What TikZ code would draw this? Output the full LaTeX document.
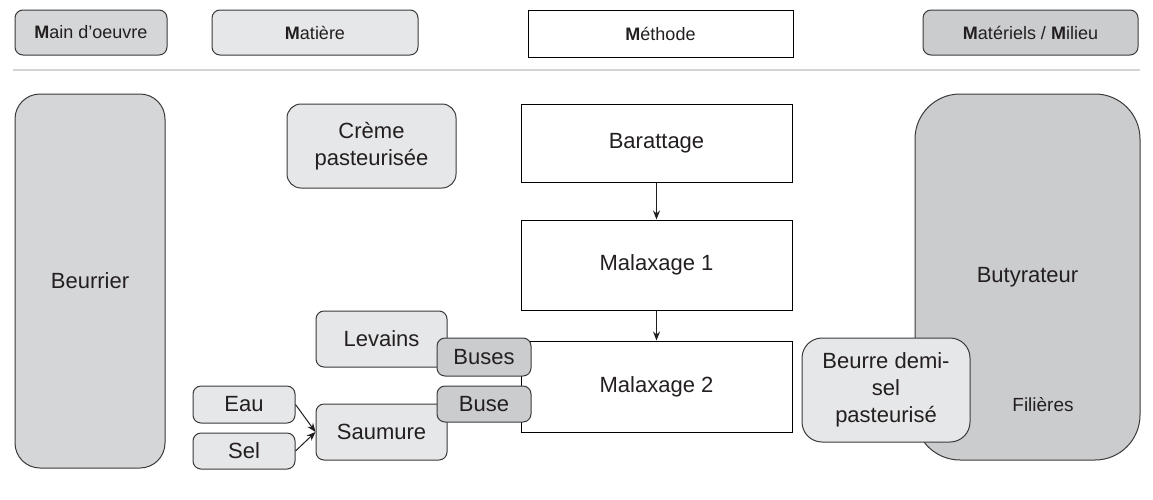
\documentclass[tikz,border=0pt]{standalone}
\usepackage{fontspec}
\setmainfont{Liberation Sans}
\usetikzlibrary{arrows.meta}
\definecolor{ink}{HTML}{231F20}
\definecolor{edge}{HTML}{3A3A3A}
\definecolor{pale}{HTML}{E6E7E8}
\definecolor{mid}{HTML}{D5D6D8}
\definecolor{dark}{HTML}{CBCCCE}
\definecolor{rule}{HTML}{D4D4D4}

\begin{document}
\begin{tikzpicture}[x=1pt,y=-1pt,
    every node/.style={inner sep=0pt,text=ink,font=\fontsize{22}{27}\selectfont},
    head/.style={draw=edge,line width=1pt,rounded corners=8pt,font=\fontsize{18}{22}\selectfont},
    box/.style={draw=edge,line width=1pt,rounded corners=#1},
    box/.default=8pt,
    etape/.style={draw=black,line width=1pt,minimum width=271pt},
    flow/.style={-{Stealth[length=9pt,width=7pt]},line width=1pt,draw=ink}]
      \useasboundingbox (0,0) rectangle (1153,499);

      % en-tetes des 4M
      \draw (91,32.5) node[head,fill=mid,minimum width=152pt,minimum height=45pt] (hMO) {\textbf{M}ain d'oeuvre};
      \draw (315,32.5) node[head,fill=pale,minimum width=206pt,minimum height=45pt] (hMat) {\textbf{M}atière};
      \draw (660.5,33.5) node[head,rounded corners=0pt,draw=black,fill=white,minimum width=265pt,minimum height=47pt] (hMeth) {\textbf{M}éthode};
      \draw (1030.5,32.5) node[head,fill=dark,minimum width=215pt,minimum height=45pt] (hMil) {\textbf{M}atériels / \textbf{M}ilieu};
      \draw[rule,line width=2.5pt] (13,70) -- (1140,70);

      % main d'oeuvre et milieu
      \draw (90,281) node[box=25pt,fill=mid,minimum width=150pt,minimum height=374pt] (beurrier) {Beurrier};
      \draw (1027.5,277) node[box=45pt,fill=dark,minimum width=225pt,minimum height=366pt] (butyr) {Butyrateur};
      \draw (1043,405) node[font=\fontsize{19}{23}\selectfont] (filieres) {Filières};

      % methode
      \draw (656.5,143) node[etape,minimum height=78pt] (barat) {Barattage};
      \draw (656.5,265) node[etape,minimum height=90pt] (malax1) {Malaxage 1};
      \draw (656.5,386.5) node[etape,minimum height=91pt] (malax2) {Malaxage 2};

      % matiere
      \draw (371.5,146) node[box=14pt,fill=pale,minimum width=169pt,minimum height=84pt,align=center] (creme) {Crème\\pasteurisée};
      \draw (381.5,339) node[box,fill=pale,minimum width=131pt,minimum height=56pt] (levains) {Levains};
      \draw (381.5,432) node[box,fill=pale,minimum width=131pt,minimum height=56pt] (saumure) {Saumure};
      \draw (244,404.5) node[box,fill=pale,minimum width=102pt,minimum height=37pt] (eau) {Eau};
      \draw (244,451) node[box,fill=pale,minimum width=102pt,minimum height=36pt] (sel) {Sel};
      \draw (484,357) node[box,fill=dark,minimum width=94pt,minimum height=38pt] (buses) {Buses};
      \draw (484,404) node[box,fill=dark,minimum width=94pt,minimum height=36pt] (buse) {Buse};
      \draw (886,390) node[box=20pt,fill=pale,minimum width=168pt,minimum height=104pt,align=center] (beurre) {Beurre demi-\\sel\\pasteurisé};

      \draw[flow] (barat) -- (malax1);
      \draw[flow] (malax1) -- (malax2);
      \draw[flow] (eau.east) -- (saumure.west);
      \draw[flow] (sel.east) -- (saumure.west);
    \end{tikzpicture}
\end{document}
